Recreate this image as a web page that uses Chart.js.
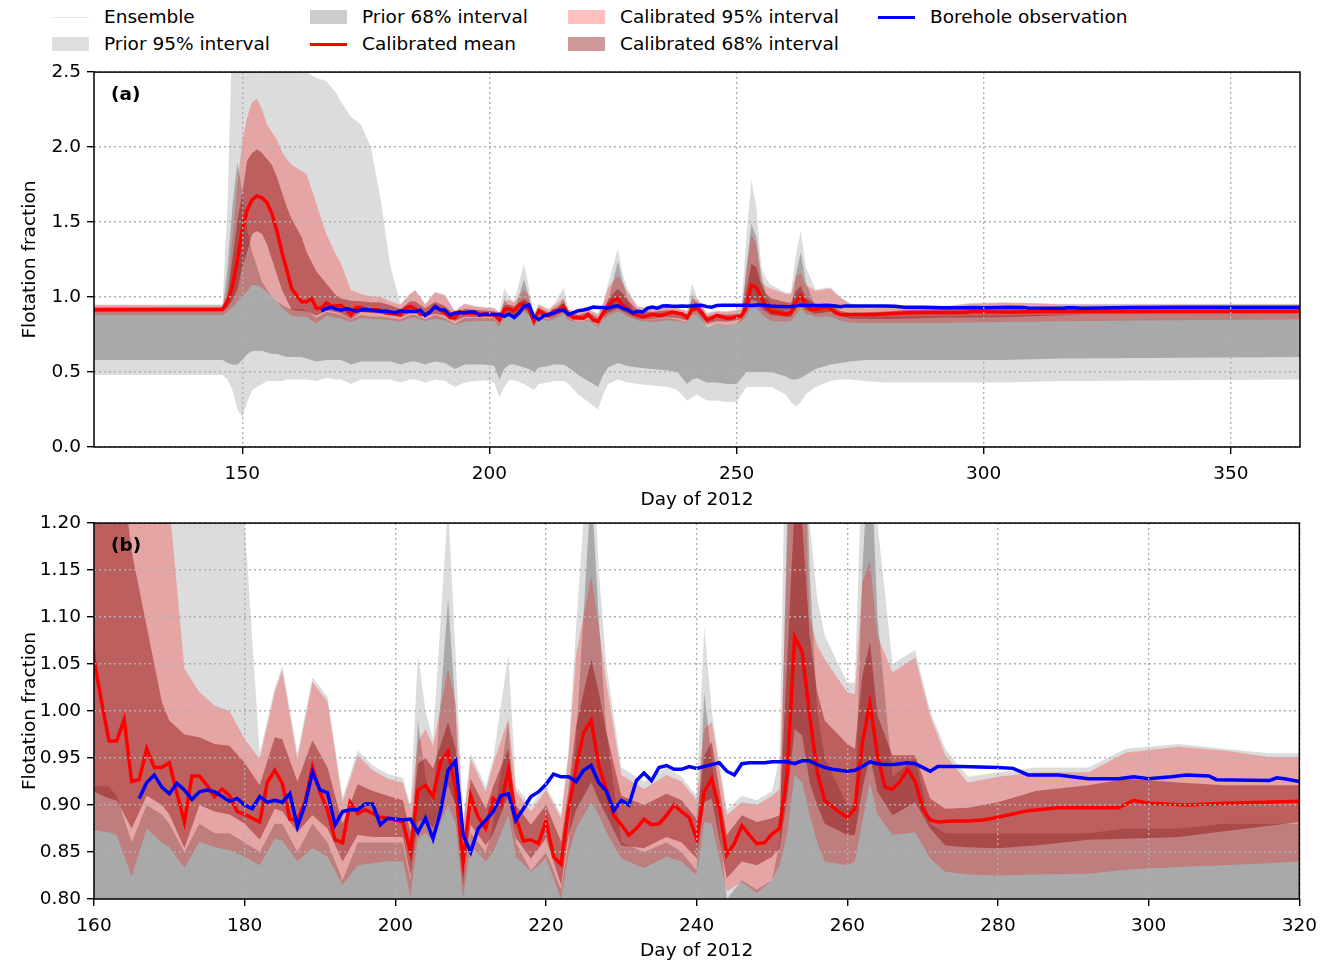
<!DOCTYPE html>
<html>
<head>
<meta charset="utf-8">
<script src="https://cdn.jsdelivr.net/npm/chart.js@4.4.1/dist/chart.umd.min.js"></script>
<style>
  body { margin: 0; background: #fff; font-family: "DejaVu Sans", sans-serif; }
  #wrap { position: relative; width: 1326px; height: 964px; overflow: hidden; }
  canvas { position: absolute; left: 0; }
  .key { position: absolute; font-size: 18.5px; color: #000; line-height: 22px; white-space: nowrap; }
  .sw { position: absolute; }
</style>
</head>
<body>
<div id="wrap">
  <div id="legend"></div>
  <canvas id="chartA" width="1326" height="458" style="top:55px"></canvas>
  <canvas id="chartB" width="1326" height="458" style="top:506px"></canvas>
</div>
<script>
// ---- data ----
// shared day grid for the interval bands
const bandDays = [120,146,147,148,149,150,151,152,153,154,
  155,156,157,158,159,160,162,163,165,167,
  169,170,172,174,176,178,180,182,184,185,
  187,189,191,193,195,197,199,201,202,203,
  204,205,207,208,209,210,212,213,215,216,
  218,220,222,223,224,226,227,228,230,233,
  236,238,240,241,242,244,246,248,250,251,
  252,253,254,255,256,257,260,261,262,263,
  264,266,269,271,273,276,280,285,292,297,
  304,310,316,320,340,364];

const prior95Lo = [0.48,0.48,0.45,0.38,0.25,0.20,0.30,0.38,0.40,0.42,
  0.44,0.44,0.44,0.44,0.45,0.45,0.45,0.45,0.44,0.46,
  0.45,0.45,0.42,0.45,0.45,0.45,0.45,0.43,0.45,0.45,
  0.43,0.45,0.44,0.40,0.43,0.44,0.445,0.43,0.33,0.40,
  0.445,0.445,0.42,0.40,0.38,0.42,0.43,0.44,0.44,0.42,
  0.35,0.30,0.25,0.35,0.42,0.45,0.44,0.43,0.42,0.41,
  0.40,0.38,0.31,0.33,0.35,0.31,0.31,0.30,0.30,0.35,
  0.40,0.40,0.40,0.40,0.40,0.40,0.35,0.30,0.27,0.30,
  0.35,0.40,0.44,0.45,0.45,0.44,0.43,0.43,0.43,0.43,
  0.43,0.435,0.44,0.44,0.445,0.45];
const prior95Hi = [0.95,0.95,1.60,2.80,3.00,3.00,3.00,3.00,3.00,3.00,
  3.00,3.00,3.00,3.00,3.00,3.00,3.00,2.50,2.46,2.44,
  2.36,2.30,2.20,2.15,2.00,1.65,1.20,0.955,1.025,1.048,
  0.955,1.036,1.015,0.908,0.958,0.942,0.933,0.929,0.90,1.06,
  1.00,0.97,1.22,1.06,0.885,0.955,0.92,0.95,1.06,0.92,
  0.90,0.92,0.89,0.96,1.09,1.32,1.15,1.05,0.94,0.925,
  0.94,0.93,0.91,1.09,1.00,0.895,0.91,0.905,0.915,0.95,
  1.40,1.78,1.60,1.20,1.12,1.08,1.03,1.03,1.28,1.44,
  1.20,1.05,1.065,1.00,0.96,0.93,0.935,0.94,0.94,0.96,
  0.965,0.96,0.955,0.955,0.955,0.955];
const prior68Lo = [0.58,0.58,0.56,0.55,0.55,0.58,0.62,0.64,0.64,0.64,
  0.63,0.62,0.62,0.61,0.60,0.60,0.60,0.59,0.57,0.58,
  0.58,0.58,0.55,0.57,0.57,0.57,0.57,0.55,0.57,0.57,
  0.55,0.57,0.56,0.52,0.55,0.55,0.55,0.54,0.45,0.52,
  0.55,0.55,0.53,0.52,0.50,0.53,0.54,0.55,0.55,0.53,
  0.48,0.44,0.40,0.48,0.53,0.56,0.55,0.54,0.53,0.52,
  0.51,0.50,0.42,0.45,0.46,0.43,0.43,0.42,0.42,0.46,
  0.50,0.50,0.50,0.50,0.50,0.50,0.47,0.45,0.45,0.46,
  0.48,0.52,0.55,0.56,0.57,0.58,0.58,0.58,0.58,0.58,
  0.58,0.585,0.59,0.59,0.595,0.60];
const prior68Hi = [0.90,0.90,1.20,1.60,1.90,1.70,1.45,1.30,1.20,1.10,
  1.05,1.00,0.97,0.95,0.93,0.92,0.92,0.91,0.86,0.90,
  0.89,0.88,0.85,0.88,0.87,0.87,0.86,0.85,0.88,0.88,
  0.85,0.88,0.86,0.82,0.86,0.86,0.86,0.86,0.82,0.99,
  0.93,0.90,1.12,1.00,0.82,0.87,0.85,0.88,0.99,0.86,
  0.83,0.85,0.81,0.86,0.97,1.24,1.10,0.98,0.86,0.85,
  0.86,0.85,0.83,1.02,0.95,0.80,0.82,0.81,0.82,0.86,
  1.20,1.49,1.40,1.15,1.00,0.95,0.90,0.90,1.15,1.30,
  1.10,0.93,0.95,0.88,0.87,0.87,0.87,0.87,0.87,0.875,
  0.875,0.88,0.88,0.88,0.885,0.89];

const cal95Lo = [0.88,0.88,0.90,0.93,0.97,1.00,1.04,1.08,1.08,1.06,
  1.03,1.00,0.97,0.93,0.90,0.873,0.871,0.868,0.824,0.875,
  0.860,0.855,0.833,0.861,0.855,0.852,0.845,0.836,0.864,0.862,
  0.840,0.854,0.845,0.815,0.836,0.838,0.840,0.840,0.802,0.864,
  0.870,0.862,0.900,0.880,0.800,0.857,0.840,0.850,0.889,0.845,
  0.829,0.843,0.800,0.847,0.875,0.903,0.890,0.871,0.843,0.833,
  0.845,0.840,0.825,0.882,0.880,0.808,0.818,0.806,0.820,0.836,
  0.868,0.932,0.924,0.889,0.860,0.840,0.836,0.840,0.882,0.924,
  0.890,0.868,0.871,0.843,0.829,0.826,0.825,0.826,0.827,0.831,
  0.834,0.836,0.838,0.840,0.845,0.850];
const cal95Hi = [0.945,0.945,1.05,1.40,1.75,2.04,2.20,2.30,2.32,2.25,
  2.15,2.10,2.05,1.97,1.92,1.88,1.84,1.82,1.62,1.42,
  1.28,1.22,1.045,1.020,1.006,1.000,0.970,0.949,1.020,1.043,
  0.949,1.031,1.010,0.903,0.953,0.937,0.928,0.924,0.896,0.967,
  0.981,0.963,1.045,1.009,0.879,0.949,0.914,0.944,0.992,0.915,
  0.893,0.916,0.886,0.953,1.060,1.144,1.090,1.031,0.932,0.917,
  0.932,0.925,0.905,0.981,0.988,0.889,0.903,0.900,0.910,0.917,
  1.170,1.420,1.350,1.100,1.070,1.055,1.020,1.018,1.137,1.160,
  1.080,1.041,1.057,0.995,0.953,0.924,0.930,0.935,0.935,0.956,
  0.962,0.958,0.951,0.951,0.950,0.950];
const cal68Lo = [0.90,0.90,0.93,0.98,1.05,1.20,1.30,1.42,1.44,1.42,
  1.35,1.25,1.15,1.05,0.98,0.914,0.907,0.905,0.875,0.910,
  0.900,0.890,0.854,0.900,0.893,0.890,0.880,0.863,0.896,0.893,
  0.871,0.889,0.875,0.840,0.868,0.866,0.866,0.866,0.825,0.882,
  0.885,0.875,0.921,0.900,0.815,0.879,0.857,0.870,0.910,0.865,
  0.843,0.864,0.815,0.868,0.895,0.924,0.905,0.889,0.857,0.854,
  0.866,0.860,0.843,0.903,0.907,0.822,0.840,0.836,0.845,0.854,
  0.907,0.981,0.974,0.924,0.900,0.880,0.868,0.868,0.917,0.953,
  0.914,0.889,0.903,0.875,0.857,0.855,0.854,0.857,0.863,0.864,
  0.866,0.872,0.878,0.882,0.885,0.888];
const cal68Hi = [0.93,0.93,1.00,1.25,1.50,1.70,1.91,1.96,1.985,1.96,
  1.92,1.88,1.80,1.70,1.60,1.52,1.40,1.30,1.17,1.09,
  1.01,0.99,0.975,0.972,0.965,0.963,0.945,0.921,0.972,0.970,
  0.925,0.969,0.940,0.880,0.922,0.915,0.910,0.905,0.871,0.944,
  0.950,0.939,0.988,0.960,0.857,0.928,0.896,0.920,0.960,0.900,
  0.879,0.900,0.861,0.917,0.985,1.055,1.020,0.978,0.910,0.900,
  0.912,0.905,0.885,0.953,0.967,0.868,0.889,0.882,0.886,0.889,
  1.050,1.220,1.200,1.080,1.020,0.990,0.965,0.960,1.038,1.073,
  0.995,0.953,0.953,0.907,0.896,0.897,0.903,0.915,0.921,0.928,
  0.924,0.921,0.921,0.921,0.922,0.922];

// calibrated ensemble mean
const meanDays = [120,146,147,148,149,150,151,152,153,154,
  155,156,157,158,159,160,161,162,163,164,
  165,166,167,168,169,170,171,172,173,174,
  175,176,177,178,179,180,181,182,183,184,
  185,186,187,188,189,190,191,192,193,194,
  195,196,197,198,199,200,201,202,203,204,
  205,206,207,208,209,210,211,212,213,214,
  215,216,217,218,219,220,221,222,223,224,
  225,226,227,228,229,230,231,232,233,234,
  235,236,237,238,239,240,241,242,243,244,
  245,246,247,248,249,250,251,252,253,254,
  255,256,257,258,259,260,261,262,263,264,
  265,266,267,268,269,270,271,272,
  274,276,278,280,284,288,296,298,300,305,310,320,364];
const meanVals = [0.915,0.918,0.97,1.07,1.24,1.45,1.58,1.65,1.675,1.66,
  1.63,1.555,1.44,1.30,1.18,1.055,1.01,0.968,0.968,0.991,
  0.925,0.927,0.960,0.940,0.940,0.945,0.913,0.882,0.931,0.931,
  0.921,0.909,0.917,0.910,0.893,0.890,0.886,0.882,0.924,0.937,
  0.923,0.885,0.884,0.903,0.940,0.914,0.894,0.863,0.860,0.903,
  0.891,0.895,0.891,0.887,0.886,0.884,0.882,0.850,0.916,0.921,
  0.909,0.946,0.957,0.917,0.840,0.910,0.887,0.875,0.907,0.900,
  0.937,0.887,0.862,0.863,0.859,0.883,0.845,0.837,0.896,0.940,
  0.977,0.990,0.942,0.917,0.889,0.879,0.868,0.875,0.885,0.879,
  0.880,0.889,0.900,0.893,0.887,0.864,0.914,0.928,0.896,0.847,
  0.859,0.878,0.868,0.859,0.860,0.869,0.875,0.932,1.079,1.063,
  0.995,0.935,0.905,0.898,0.892,0.887,0.896,0.967,1.008,0.953,
  0.919,0.917,0.925,0.938,0.925,0.896,0.884,0.882,
  0.883,0.883,0.884,0.887,0.894,0.897,0.897,0.905,0.902,0.900,0.902,0.904,0.905];

// borehole observation
const obsDays = [166,167,168,169,170,171,172,173,174,175,
  176,177,178,179,180,181,182,183,184,185,
  186,187,188,189,190,191,192,193,194,195,
  196,197,198,199,200,201,202,203,204,205,
  206,207,208,209,210,211,212,213,214,215,
  216,217,218,219,220,221,222,223,224,225,
  226,227,228,229,230,231,232,233,234,235,
  236,237,238,239,240,241,242,243,244,245,
  246,247,248,249,250,251,252,253,254,255,
  256,257,258,259,260,261,262,263,264,265,
  266,267,268,269,270,271,272,
  275,280,282,284,288,292,296,298,300,303,305,308,309,316,317,318,320,330,340,364];
const obsVals = [0.907,0.924,0.932,0.919,0.912,0.923,0.916,0.906,0.914,0.916,
  0.914,0.909,0.904,0.907,0.900,0.896,0.909,0.903,0.905,0.903,
  0.912,0.877,0.900,0.935,0.916,0.913,0.879,0.893,0.895,0.895,
  0.901,0.901,0.879,0.886,0.885,0.884,0.885,0.871,0.886,0.864,
  0.893,0.937,0.947,0.868,0.850,0.875,0.884,0.893,0.910,0.912,
  0.884,0.896,0.909,0.914,0.922,0.933,0.930,0.930,0.925,0.937,
  0.942,0.924,0.915,0.894,0.905,0.900,0.926,0.934,0.926,0.940,
  0.942,0.938,0.938,0.941,0.939,0.941,0.943,0.945,0.936,0.932,
  0.944,0.945,0.945,0.945,0.946,0.946,0.946,0.944,0.947,0.947,
  0.943,0.940,0.938,0.937,0.936,0.937,0.941,0.946,0.944,0.943,
  0.943,0.944,0.945,0.944,0.940,0.936,0.941,
  0.941,0.940,0.939,0.932,0.932,0.928,0.928,0.930,0.928,0.930,0.932,0.931,0.927,0.926,0.929,0.928,0.925,0.930,0.932,0.932];

// axis ticks
const xTicksA = [150, 200, 250, 300, 350];
const yTicksA = [0.0, 0.5, 1.0, 1.5, 2.0, 2.5];
const xTicksB = [160, 180, 200, 220, 240, 260, 280, 300, 320];
const yTicksB = [0.80, 0.85, 0.90, 0.95, 1.00, 1.05, 1.10, 1.15, 1.20];

// ---- styling ----
const FONT = 'DejaVu Sans';
const P95 = 'rgba(128,128,128,0.28)';
const P68 = 'rgba(100,100,100,0.42)';
const C95 = 'rgba(255,0,0,0.25)';
const C68 = 'rgba(139,0,0,0.42)';
const GRID = '#b0b0b0';

// legend, laid out like the matplotlib one (4 columns, 2 rows)
const legendItems = [
  { label: 'Ensemble', kind: 'line', color: '#e4e4e4', w: 1, x: 52, y: 17 },
  { label: 'Prior 95% interval', kind: 'patch', color: '#dfdfdf', x: 52, y: 44 },
  { label: 'Prior 68% interval', kind: 'patch', color: '#cccccc', x: 310, y: 17 },
  { label: 'Calibrated mean', kind: 'line', color: '#ff0000', w: 3, x: 310, y: 44 },
  { label: 'Calibrated 95% interval', kind: 'patch', color: '#ffbfbf', x: 568, y: 17 },
  { label: 'Calibrated 68% interval', kind: 'patch', color: '#d09999', x: 568, y: 44 },
  { label: 'Borehole observation', kind: 'line', color: '#0000ff', w: 3, x: 878, y: 17 }
];

const leg = document.getElementById('legend');
legendItems.forEach(it => {
  const sw = document.createElement('div');
  sw.className = 'sw';
  if (it.kind === 'patch') {
    sw.style.cssText = `left:${it.x}px;top:${it.y - 7}px;width:37px;height:14px;background:${it.color}`;
  } else {
    sw.style.cssText = `left:${it.x}px;top:${it.y - it.w / 2}px;width:37px;height:${it.w}px;background:${it.color}`;
  }
  leg.appendChild(sw);
  const t = document.createElement('div');
  t.className = 'key';
  t.textContent = it.label;
  t.style.left = (it.x + 52) + 'px';
  t.style.top = (it.y - 11) + 'px';
  leg.appendChild(t);
});

function series(days, vals) {
  return days.map((d, i) => ({ x: d, y: vals[i] }));
}

function band(vals, color, fillNext) {
  return {
    data: series(bandDays, vals),
    borderColor: 'rgba(0,0,0,0)',
    borderWidth: 0,
    pointRadius: 0,
    backgroundColor: color,
    fill: fillNext ? '+1' : false
  };
}

function buildDatasets() {
  // first dataset is drawn on top
  return [
    { data: series(obsDays, obsVals), borderColor: '#0000ff', borderWidth: 3.5, pointRadius: 0, fill: false },
    { data: series(meanDays, meanVals), borderColor: '#ff0000', borderWidth: 3.5, pointRadius: 0, fill: false },
    band(cal68Hi, C68, true), band(cal68Lo, C68, false),
    band(cal95Hi, C95, true), band(cal95Lo, C95, false),
    band(prior68Hi, P68, true), band(prior68Lo, P68, false),
    band(prior95Hi, P95, true), band(prior95Lo, P95, false)
  ];
}

// box around the axes + panel letter
const framePlugin = {
  id: 'frame',
  afterDraw(chart, args, opts) {
    const { ctx, chartArea: a } = chart;
    ctx.save();
    ctx.strokeStyle = '#000';
    ctx.lineWidth = 1.5;
    ctx.strokeRect(a.left, a.top, a.right - a.left, a.bottom - a.top);
    ctx.font = `bold 18.5px "${FONT}"`;
    ctx.fillStyle = '#000';
    ctx.textBaseline = 'middle';
    ctx.fillText(opts.label, a.left + 17, a.top + 23);
    ctx.restore();
  }
};

function makeChart(id, cfg) {
  const tickFont = { size: 18.5, family: FONT };
  const gridOpts = { color: GRID, lineWidth: 1.4, z: 1, tickLength: 7, tickColor: '#000', tickWidth: 1.4 };
  return new Chart(document.getElementById(id), {
    type: 'line',
    data: { datasets: buildDatasets() },
    plugins: [framePlugin],
    options: {
      responsive: false,
      animation: false,
      devicePixelRatio: 1,
      layout: { padding: { top: cfg.padTop, right: 26, left: 0, bottom: 0 } },
      elements: { line: { tension: 0 } },
      plugins: {
        legend: { display: false },
        tooltip: { enabled: false },
        filler: { propagate: false },
        frame: { label: cfg.label }
      },
      scales: {
        x: {
          type: 'linear',
          min: cfg.xMin,
          max: cfg.xMax,
          afterBuildTicks: s => { s.ticks = cfg.xTicks.map(v => ({ value: v })); },
          afterFit: s => { s.height = cfg.xAxisH; },
          grid: gridOpts,
          border: { display: false, dash: [2, 3] },
          ticks: { color: '#000', font: tickFont, padding: 9, maxRotation: 0, autoSkip: false, callback: v => String(v) },
          title: { display: true, text: 'Day of 2012', color: '#000', font: tickFont, padding: { top: 0, bottom: 2 } }
        },
        y: {
          type: 'linear',
          min: cfg.yMin,
          max: cfg.yMax,
          afterBuildTicks: s => { s.ticks = cfg.yTicks.map(v => ({ value: v })); },
          afterFit: s => { s.width = 94; },
          grid: gridOpts,
          border: { display: false, dash: [2, 3] },
          ticks: { color: '#000', font: tickFont, padding: 6, autoSkip: false, callback: v => v.toFixed(cfg.dec) },
          title: { display: true, text: 'Flotation fraction', color: '#000', font: tickFont, padding: { top: 19, bottom: 0 } }
        }
      }
    }
  });
}

makeChart('chartA', {
  label: '(a)', padTop: 8, xAxisH: 66,
  xMin: 120, xMax: 364, xTicks: xTicksA,
  yMin: 0, yMax: 2.5, yTicks: yTicksA, dec: 1
});

makeChart('chartB', {
  label: '(b)', padTop: 8, xAxisH: 65,
  xMin: 160, xMax: 320, xTicks: xTicksB,
  yMin: 0.8, yMax: 1.2, yTicks: yTicksB, dec: 2
});
</script>
</body>
</html>
